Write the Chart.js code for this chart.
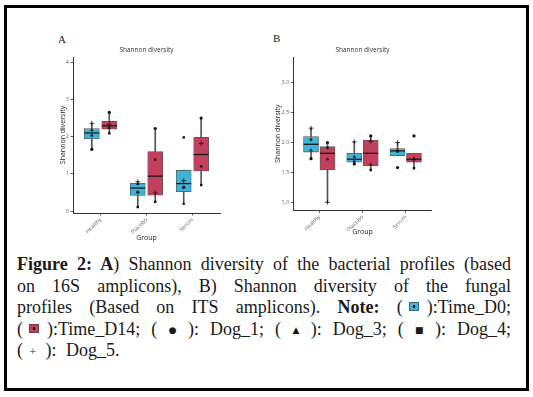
<!DOCTYPE html>
<html>
<head>
<meta charset="utf-8">
<title>Shannon diversity</title>
<script src="https://cdn.jsdelivr.net/npm/chart.js"></script>
<style>
  body { margin: 0; width: 533px; height: 397px; background: #fff; position: relative; overflow: hidden; }
  .frame { position: absolute; left: 4px; top: 5px; width: 525px; height: 386px; box-sizing: border-box; border: 3px solid #000; }
  .letter { position: absolute; font: 11px "Liberation Serif", serif; color: #222; }
  .panel { position: absolute; }
  .caption { position: absolute; left: 17px; top: 254px; width: 494px; font: 18px "Liberation Serif", serif; line-height: 21.5px; color: #1a1a1a; }
  .caption .j { text-align: justify; text-align-last: justify; }
  .key { display: inline-block; width: 8px; height: 7px; margin: 0 8px 0 6px; vertical-align: 2px; border: 0.5px solid rgba(60,60,60,0.6); }
  .sym { font: 9px "DejaVu Sans", sans-serif; margin: 0 5px; vertical-align: 2px; }
</style>
</head>
<body>
<div class="frame"></div>
<div class="letter" style="left:58px; top:33px;">A</div>
<div class="letter" style="left:273px; top:32px;">B</div>
<div class="panel" style="left:20px; top:40px;"><canvas id="chartA" width="205" height="205"></canvas></div>
<div class="panel" style="left:240px; top:40px;"><canvas id="chartB" width="200" height="205"></canvas></div>

<div class="caption">
  <div class="j"><b>Figure 2: A</b>) Shannon diversity of the bacterial profiles (based</div>
  <div class="j">on 16S amplicons), B) Shannon diversity of the fungal</div>
  <div class="j">profiles (Based on ITS amplicons). <b>Note:</b> (<span class="key" style="background: radial-gradient(circle, #111 0 1.2px, #3fb4da 1.6px);"></span>):Time_D0;</div>
  <div class="j">(<span class="key" style="background: radial-gradient(circle, #111 0 1.2px, #c2405c 1.6px);"></span>):Time_D14; (<span class="sym">●</span>): Dog_1; (<span class="sym">▲</span>): Dog_3; (<span class="sym">■</span>): Dog_4;</div>
  <div style="word-spacing: 5px;">(<span class="sym" style="color:#666; margin: 0 9px 0 6px;">+</span>): Dog_5.</div>
</div>

<script>
const groups = ["Healthy", "Placebo", "Serum"];

// panel A: 16S, box stats per group
const aD0Low = [1.66, 0.11, 0.20];
const aD0Q1 = [1.94, 0.42, 0.52];
const aD0Median = [2.10, 0.62, 0.74];
const aD0Q3 = [2.22, 0.75, 1.10];
const aD0High = [2.36, 0.79, 1.10];
const aD14Low = [2.09, 0.25, 0.70];
const aD14Q1 = [2.20, 0.43, 1.08];
const aD14Median = [2.29, 0.94, 1.52];
const aD14Q3 = [2.41, 1.60, 1.98];
const aD14High = [2.65, 2.22, 2.50];
// panel A: dogs
const aDog1D0 = [1.66, 0.51, 0.64];
const aDog1D14 = [2.65, 2.22, 2.50];
const aDog3D0 = [2.17, 0.73, 0.20];
const aDog3D14 = [2.24, 1.39, 1.20];
const aDog4D0 = [2.03, 0.11, 1.98];
const aDog4D14 = [2.09, 0.25, 0.70];
const aDog5D0 = [2.36, 0.79, 0.82];
const aDog5D14 = [2.33, 0.49, 1.82];
const aYTicks = [0, 1, 2, 3, 4];
const aYTickLabels = ["0", "1", "2", "3", "4"];

// panel B: ITS, box stats per group
const bD0Low = [1.73, 1.64, 1.78];
const bD0Q1 = [1.84, 1.67, 1.78];
const bD0Median = [1.97, 1.72, 1.86];
const bD0Q3 = [2.10, 1.82, 1.90];
const bD0High = [2.24, 2.01, 2.00];
const bD14Low = [1.00, 1.54, 1.57];
const bD14Q1 = [1.54, 1.61, 1.67];
const bD14Median = [1.82, 1.82, 1.72];
const bD14Q3 = [1.93, 2.04, 1.82];
const bD14High = [2.00, 2.11, 1.82];
// panel B: dogs
const bDog1D0 = [1.73, 1.64, 1.58];
const bDog1D14 = [2.00, 2.11, 2.11];
const bDog3D0 = [1.87, 1.76, 1.87];
const bDog3D14 = [1.72, 1.63, 1.73];
const bDog4D0 = [2.05, 1.68, 1.85];
const bDog4D14 = [1.91, 1.54, 1.57];
const bDog5D0 = [2.24, 2.01, 2.00];
const bDog5D14 = [1.00, 2.02, 1.71];
const bYTicks = [1.0, 1.5, 2.0, 2.5, 3.0];
const bYTickLabels = ["1.0", "1.5", "2.0", "2.5", "3.0"];

const dodge = 0.19;
const blue = "#3fb4da";
const red = "#c2405c";
const sans = "'Open Sans', sans-serif";

// median line on top of each box
const medianLines = {
    id: "medianLines",
    afterDatasetDraw(chart, args) {
        const ds = chart.data.datasets[args.index];
        if (!ds.medians) return;
        const ctx = chart.ctx;
        const y = chart.scales.y;
        ctx.save();
        ctx.strokeStyle = "#1a1a1a";
        ctx.lineWidth = 1.3;
        args.meta.data.forEach((bar, i) => {
            const py = y.getPixelForValue(ds.medians[i]);
            ctx.beginPath();
            ctx.moveTo(bar.x - bar.width / 2, py);
            ctx.lineTo(bar.x + bar.width / 2, py);
            ctx.stroke();
        });
        ctx.restore();
    }
};

function at(values, shift) {
    return values.map((v, i) => ({ x: i + 1 + shift, y: v }));
}
function span(lo, hi, shift) {
    return lo.map((v, i) => ({ x: i + 1 + shift, y: [v, hi[i]] }));
}

function drawPanel(id, p) {
    const whisker = (lo, hi, shift) => ({
        type: "bar", data: span(lo, hi, shift), grouped: false, barThickness: 1,
        backgroundColor: "#555", order: 3
    });
    const box = (q1, q3, med, shift, color) => ({
        type: "bar", data: span(q1, q3, shift), grouped: false, barThickness: 15,
        backgroundColor: color, borderColor: "rgba(60,60,60,0.85)", borderWidth: 0.8,
        borderSkipped: false, medians: med, order: 2
    });
    const dog = (d0, d14, style, r) => ({
        type: "scatter", data: at(d0, -dodge).concat(at(d14, dodge)), pointStyle: style,
        pointRadius: r, backgroundColor: "#111", borderColor: "#111", borderWidth: style === "cross" ? 0.8 : 0,
        order: 1
    });

    new Chart(document.getElementById(id), {
        type: "bar",
        data: {
            datasets: [
                whisker(p.d0[0], p.d0[4], -dodge),
                whisker(p.d14[0], p.d14[4], dodge),
                box(p.d0[1], p.d0[3], p.d0[2], -dodge, blue),
                box(p.d14[1], p.d14[3], p.d14[2], dodge, red),
                dog(p.dogs[0], p.dogs[1], "circle", 1.6),
                dog(p.dogs[2], p.dogs[3], "triangle", 2),
                dog(p.dogs[4], p.dogs[5], "rect", 1.7),
                dog(p.dogs[6], p.dogs[7], "cross", 2.4)
            ]
        },
        options: {
            responsive: false,
            animation: false,
            layout: { padding: { left: 0, right: p.padRight, top: 0, bottom: 0 } },
            plugins: {
                legend: { display: false },
                tooltip: { enabled: false },
                title: {
                    display: true, text: "Shannon diversity", fullSize: false, color: "#333",
                    font: { family: sans, size: 6.5, weight: "normal" },
                    padding: { top: 6.1, bottom: 3.1 }
                }
            },
            scales: {
                x: {
                    type: "linear", min: 0.4, max: 3.6, offset: false,
                    afterBuildTicks: s => { s.ticks = groups.map((g, i) => ({ value: i + 1 })); },
                    afterFit: s => { s.height = p.xHeight; },
                    grid: { display: true, drawOnChartArea: false, drawTicks: true, tickLength: 2.5, color: "#333", lineWidth: 0.8, offset: false },
                    border: { display: true, color: "#333", width: 1 },
                    ticks: {
                        autoSkip: false, minRotation: 45, maxRotation: 45, padding: 1, color: "#666",
                        font: { family: sans, size: 5.5 },
                        callback: v => groups[v - 1]
                    },
                    title: {
                        display: true, text: "Group", color: "#222",
                        font: { family: sans, size: 7 },
                        padding: { top: 0, bottom: p.groupPad }
                    }
                },
                y: {
                    type: "linear", min: p.yMin, max: p.yMax, beginAtZero: false,
                    afterBuildTicks: s => { s.ticks = p.yTicks.map(v => ({ value: v })); },
                    afterFit: s => { s.width = p.yWidth; },
                    grid: { display: true, drawOnChartArea: false, drawTicks: true, tickLength: 2.5, color: "#333", lineWidth: 0.8 },
                    border: { display: true, color: "#333", width: 1 },
                    ticks: {
                        padding: p.tickPad, color: "#666",
                        font: { family: sans, size: 5.5 },
                        callback: (v, i) => p.yLabels[i]
                    },
                    title: {
                        display: true, text: "Shannon diversity", color: "#222",
                        font: { family: sans, size: 7 },
                        padding: { top: p.yTitlePad, bottom: 0 }
                    }
                }
            }
        },
        plugins: [medianLines]
    });
}

drawPanel("chartA", {
    d0: [aD0Low, aD0Q1, aD0Median, aD0Q3, aD0High],
    d14: [aD14Low, aD14Q1, aD14Median, aD14Q3, aD14High],
    dogs: [aDog1D0, aDog1D14, aDog3D0, aDog3D14, aDog4D0, aDog4D14, aDog5D0, aDog5D14],
    yTicks: aYTicks, yLabels: aYTickLabels, yMin: -0.05, yMax: 4.14,
    padRight: 5, yWidth: 53, xHeight: 32, groupPad: 3.1, yTitlePad: 38.5, tickPad: 1.5
});

drawPanel("chartB", {
    d0: [bD0Low, bD0Q1, bD0Median, bD0Q3, bD0High],
    d14: [bD14Low, bD14Q1, bD14Median, bD14Q3, bD14High],
    dogs: [bDog1D0, bDog1D14, bDog3D0, bDog3D14, bDog4D0, bDog4D14, bDog5D0, bDog5D14],
    yTicks: bYTicks, yLabels: bYTickLabels, yMin: 0.866, yMax: 3.43,
    padRight: 8.3, yWidth: 53.3, xHeight: 34.7, groupPad: 8.5, yTitlePad: 34.1, tickPad: 1.5
});
</script>
</body>
</html>
